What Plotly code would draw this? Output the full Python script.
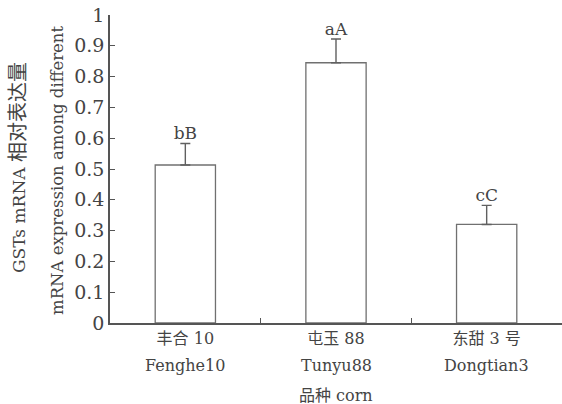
import plotly.graph_objects as go

categories_cn = ["丰合 10", "屯玉 88", "东甜 3 号"]
categories_en = ["Fenghe10", "Tunyu88", "Dongtian3"]
values = [0.513, 0.845, 0.32]
errors = [0.07, 0.077, 0.062]
letters = ["bB", "aA", "cC"]
yticks = [0, 0.1, 0.2, 0.3, 0.4, 0.5, 0.6, 0.7, 0.8, 0.9, 1]
yticklabels = ["0", "0.1", "0.2", "0.3", "0.4", "0.5", "0.6", "0.7", "0.8", "0.9", "1"]

FONT = "DejaVu Serif, Noto Sans CJK SC, serif"
GRAY = "#555555"
TXT = "#444444"

fig = go.Figure()
fig.add_trace(go.Bar(
    x=categories_en, y=values, width=0.4,
    marker=dict(color="white", line=dict(color="#707070", width=1.3)),
    error_y=dict(type="data", array=errors, arrayminus=[0]*len(errors), symmetric=False,
                 color="#606060", thickness=1.4, width=5),
    showlegend=False, hoverinfo="skip",
))
fig.add_trace(go.Scatter(
    x=categories_en, y=[v + e for v, e in zip(values, errors)],
    mode="text", text=letters, textposition="top center",
    textfont=dict(family=FONT, size=17, color=TXT),
    showlegend=False, cliponaxis=False, hoverinfo="skip",
))

fig.update_layout(
    width=562, height=404,
    margin=dict(l=110, r=0, t=15, b=81),
    paper_bgcolor="white", plot_bgcolor="white",
    font=dict(family=FONT, size=17, color=TXT),
)
fig.update_xaxes(
    showline=True, linecolor=GRAY, linewidth=1.5,
    ticks="inside", tickson="boundaries", ticklen=5, tickcolor=GRAY,
    tickmode="array", tickvals=categories_en, ticktext=categories_cn,
    tickfont=dict(family=FONT, size=16, color=TXT),
    range=[-0.5, 2.5], automargin=False,
)
fig.update_yaxes(
    range=[0, 1], tickvals=yticks, ticktext=yticklabels,
    showline=True, linecolor=GRAY, linewidth=1.5,
    ticks="inside", ticklen=5, tickcolor=GRAY, showgrid=False, zeroline=False,
    tickfont=dict(family=FONT, size=19, color=TXT), automargin=False,
)
for cat, en in zip(categories_en, categories_en):
    fig.add_annotation(xref="x", yref="paper", x=cat, y=0, yshift=-42,
                       text=en, showarrow=False, yanchor="middle",
                       font=dict(family=FONT, size=16, color=TXT))
fig.add_annotation(xref="paper", yref="paper", x=0.5, y=0, yshift=-72, yanchor="middle",
                   text="品种 corn", showarrow=False,
                   font=dict(family=FONT, size=16, color=TXT))
fig.add_annotation(xref="paper", yref="paper", x=0, y=0.5, xshift=-92, yshift=1,
                   xanchor="center", yanchor="middle",
                   text="GSTs mRNA <span style='font-size:20px'>相对表达量</span>",
                   textangle=-90, showarrow=False,
                   font=dict(family=FONT, size=17, color=TXT))
fig.add_annotation(xref="paper", yref="paper", x=0, y=0.5, xshift=-53, yshift=-2,
                   xanchor="center", yanchor="middle",
                   text="mRNA expression among different", textangle=-90, showarrow=False,
                   font=dict(family=FONT, size=16.5, color=TXT))

fig.write_html("out.html", config={"displayModeBar": False},
               post_script="document.body.style.margin='0';")
